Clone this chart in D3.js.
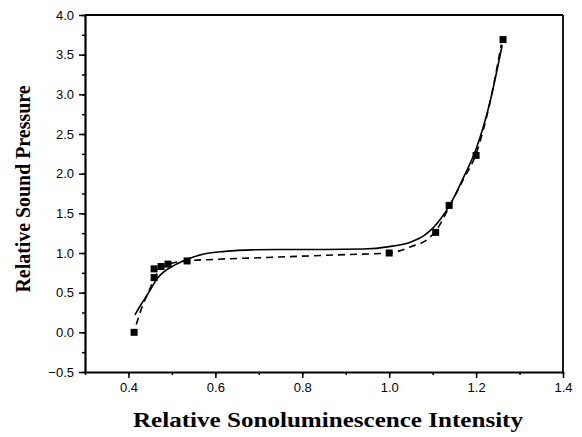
<!DOCTYPE html>
<html><head><meta charset="utf-8">
<script src="https://cdn.jsdelivr.net/npm/d3@7"></script>
<style>body{margin:0;background:#fff}</style>
</head><body><svg id="c" width="582" height="437"></svg>
<script>
const xTicks = [0.4, 0.6, 0.8, 1.0, 1.2, 1.4];
const yTicks = [-0.5, 0.0, 0.5, 1.0, 1.5, 2.0, 2.5, 3.0, 3.5, 4.0];
const pointX = [0.413, 0.459, 0.459, 0.475, 0.491, 0.535, 1.0, 1.107, 1.138, 1.2, 1.262];
const pointY = [0.0, 0.69, 0.80, 0.83, 0.86, 0.90, 1.0, 1.26, 1.60, 2.23, 3.69];
const fitX = [0.415, 0.43, 0.443, 0.468, 0.507, 0.535, 0.576, 0.622, 0.684, 0.75, 0.85, 0.94, 1.0, 1.05, 1.08, 1.10, 1.12, 1.14, 1.17, 1.20, 1.23, 1.26];
const fitY = [0.22, 0.36, 0.47, 0.69, 0.85, 0.92, 0.99, 1.02, 1.04, 1.045, 1.045, 1.05, 1.08, 1.14, 1.22, 1.31, 1.44, 1.61, 1.94, 2.31, 2.86, 3.62];
const dashX = [0.418, 0.43, 0.443, 0.455, 0.465, 0.48, 0.50, 0.535, 0.6, 0.7, 0.8, 0.9, 1.0, 1.05, 1.09, 1.11, 1.14, 1.17, 1.2, 1.23, 1.258];
const dashY = [0.10, 0.30, 0.47, 0.62, 0.74, 0.82, 0.87, 0.90, 0.92, 0.94, 0.96, 0.98, 1.0, 1.08, 1.18, 1.30, 1.60, 1.92, 2.25, 2.85, 3.63];

const svg = d3.select('#c');
const L = 85, R = 563, T = 15, B = 372;
const x = d3.scaleLinear().domain([0.3, 1.4]).range([L, R]);
const y = d3.scaleLinear().domain([-0.5, 4.0]).range([B, T]);

// frame top/right
svg.append('line').attr('x1', L).attr('x2', R).attr('y1', T).attr('y2', T).attr('stroke', '#000').attr('stroke-width', 1.8);
svg.append('line').attr('x1', R).attr('x2', R).attr('y1', T).attr('y2', B).attr('stroke', '#000').attr('stroke-width', 1.8);

// minor ticks
const xMinor = d3.range(0.3, 1.401, 0.1).map(v => +v.toFixed(2));
const yMinor = d3.range(-0.5, 4.001, 0.25).map(v => +v.toFixed(2));
const xa = svg.append('g').attr('transform', `translate(0,${B})`)
  .call(d3.axisBottom(x).tickValues(xMinor).tickSize(3).tickFormat(''));
xa.select('.domain').remove();
const ya = svg.append('g').attr('transform', `translate(${L},0)`)
  .call(d3.axisLeft(y).tickValues(yMinor).tickSize(3).tickFormat(''));
ya.select('.domain').remove();

// major axes
const gx = svg.append('g').attr('transform', `translate(0,${B})`)
  .call(d3.axisBottom(x).tickValues(xTicks).tickSize(6).tickSizeOuter(0).tickPadding(5).tickFormat(d3.format('.1f')));
const gy = svg.append('g').attr('transform', `translate(${L},0)`)
  .call(d3.axisLeft(y).tickValues(yTicks).tickSize(6).tickSizeOuter(0).tickPadding(5).tickFormat(d3.format('.1f')));
[gx, gy, xa, ya].forEach(g => {
  g.selectAll('line').attr('stroke', '#000').attr('stroke-width', 1.5);
  g.selectAll('.domain').attr('stroke', '#000').attr('stroke-width', 2.2);
  g.selectAll('text').attr('font-family', 'Liberation Sans, Arial, sans-serif').attr('font-size', 13).attr('fill', '#000');
});

// curves
const fit = fitX.map((v, i) => [v, fitY[i]]);
const dash = dashX.map((v, i) => [v, dashY[i]]);
const line = d3.line().x(d => x(d[0])).y(d => y(d[1])).curve(d3.curveMonotoneX);
svg.append('path').datum(fit).attr('d', line).attr('fill', 'none').attr('stroke', '#000').attr('stroke-width', 1.6);
svg.append('path').datum(dash).attr('d', line).attr('fill', 'none').attr('stroke', '#000').attr('stroke-width', 1.6).attr('stroke-dasharray', '7,5');

// points
svg.append('g').selectAll('rect').data(pointX.map((v, i) => [v, pointY[i]])).join('rect')
  .attr('x', d => x(d[0]) - 3.5).attr('y', d => y(d[1]) - 3.5).attr('width', 7).attr('height', 7).attr('fill', '#000');

// titles
svg.append('text').attr('x', 328).attr('y', 427).attr('text-anchor', 'middle')
  .attr('font-family', 'Liberation Serif, Times New Roman, serif').attr('font-weight', 'bold').attr('font-size', 21)
  .attr('textLength', 390).attr('lengthAdjust', 'spacingAndGlyphs')
  .text('Relative Sonoluminescence Intensity');
svg.append('text').attr('transform', 'translate(30,189) rotate(-90)').attr('text-anchor', 'middle')
  .attr('font-family', 'Liberation Serif, Times New Roman, serif').attr('font-weight', 'bold').attr('font-size', 20)
  .attr('textLength', 207).attr('lengthAdjust', 'spacingAndGlyphs')
  .text('Relative Sound Pressure');
</script></body></html>
